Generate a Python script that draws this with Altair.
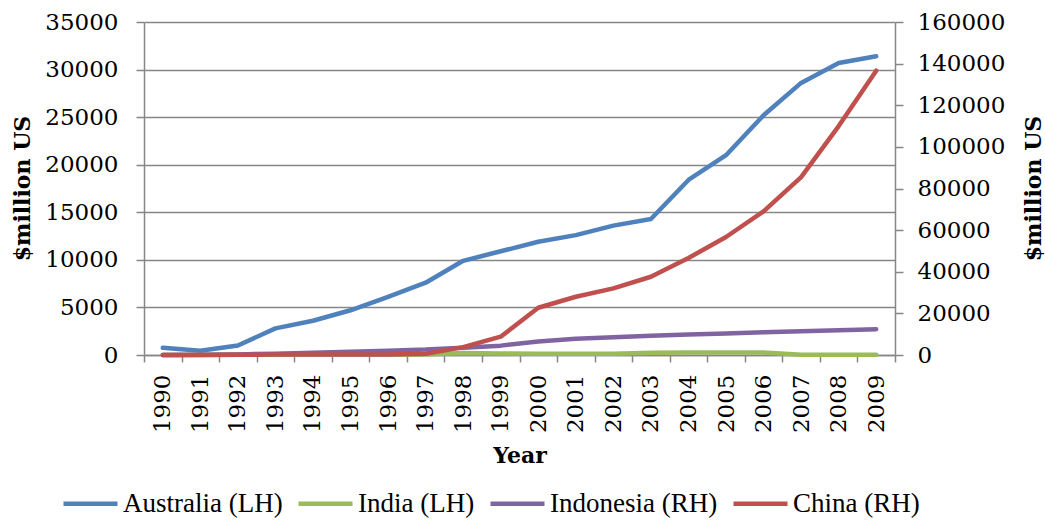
import altair as alt
import pandas as pd

# Annual values, $million US
years = [str(y) for y in range(1990, 2010)]
australia = [750, 450, 1000, 2800, 3600, 4700, 6100, 7600, 9900, 10900,
             11900, 12600, 13600, 14300, 18400, 21000, 25200, 28600, 30700, 31400]
india = [0, 0, 20, 30, 40, 50, 50, 60, 220, 150,
         130, 130, 140, 230, 260, 260, 250, 30, 20, 30]
indonesia = [0, 100, 300, 600, 1100, 1600, 2100, 2600, 3500, 4500,
             6500, 7800, 8500, 9200, 9800, 10300, 10900, 11400, 11900, 12400]
china = [0, 0, 100, 200, 300, 300, 300, 600, 3800, 8800,
         22700, 28000, 32000, 37600, 46600, 56700, 69000, 85500, 110000, 136600]

series_names = ["Australia (LH)", "India (LH)", "Indonesia (RH)", "China (RH)"]
series_colors = ["#4F81BD", "#9BBB59", "#8064A2", "#C0504D"]
left_ticks = [0, 5000, 10000, 15000, 20000, 25000, 30000, 35000]
right_ticks = [0, 20000, 40000, 60000, 80000, 100000, 120000, 140000, 160000]

rows = []
for name, side, vals in [
    ("Australia (LH)", "L", australia),
    ("India (LH)", "L", india),
    ("Indonesia (RH)", "R", indonesia),
    ("China (RH)", "R", china),
]:
    for yr, v in zip(years, vals):
        rows.append({"Year": yr, "series": name, "side": side, "value": v})
df = pd.DataFrame(rows)

FONT = "DejaVu Serif"
GREY = "#868686"

x_enc = alt.X(
    "Year:O",
    sort=years,
    bandPosition=0.5,
    scale=alt.Scale(type="band", paddingInner=0, paddingOuter=0),
    axis=alt.Axis(
        title="Year",
        labelAngle=-90,
        tickBand="extent",
        tickSize=7,
        labelPadding=12,
        grid=False,
        titlePadding=13,
    ),
)

color_enc = alt.Color(
    "series:N",
    scale=alt.Scale(domain=series_names, range=series_colors),
    legend=alt.Legend(
        title=None,
        orient="none",
        direction="horizontal",
        legendX=-83,
        legendY=452,
        symbolType="stroke",
        symbolSize=2916,
        symbolStrokeWidth=4.5,
        labelFont="Liberation Serif",
        labelFontSize=27,
        labelColor="#000000",
        labelOffset=3,
        columnPadding=6,
        labelLimit=400,
    ),
)

base = alt.Chart(df)

left = base.transform_filter(alt.datum.side == "L").mark_line(
    strokeWidth=4.5, strokeJoin="round", strokeCap="round"
).encode(
    x=x_enc,
    y=alt.Y(
        "value:Q",
        scale=alt.Scale(domain=[0, 35000], nice=False, zero=True),
        axis=alt.Axis(
            title="$million US",
            values=left_ticks,
            format="d",
            orient="left",
            tickSize=8,
            labelPadding=18,
            grid=True,
            titleX=-122,
            titleY=166,
            titleAngle=270,
            titleAlign="center",
            titleBaseline="middle",
        ),
    ),
    color=color_enc,
    detail="series:N",
)

right = base.transform_filter(alt.datum.side == "R").mark_line(
    strokeWidth=4.5, strokeJoin="round", strokeCap="round"
).encode(
    x=x_enc,
    y=alt.Y(
        "value:Q",
        scale=alt.Scale(domain=[0, 160000], nice=False, zero=True),
        axis=alt.Axis(
            title="$million US",
            values=right_ticks,
            format="d",
            orient="right",
            tickSize=8,
            labelPadding=14,
            grid=False,
            titleX=138,
            titleY=166,
            titleAngle=270,
            titleAlign="center",
            titleBaseline="middle",
        ),
    ),
    color=color_enc,
    detail="series:N",
)

chart = alt.layer(left, right).resolve_scale(y="independent").properties(
    width=751,
    height=333,
    autosize=alt.AutoSizeParams(type="none"),
    padding={"left": 144, "top": 22, "right": 150, "bottom": 165},
    background="#FFFFFF",
).configure_view(
    stroke=None
).configure_axis(
    labelFont=FONT,
    labelFontSize=23,
    labelColor="#000000",
    titleFont=FONT,
    titleFontSize=22,
    titleFontWeight="bold",
    titleColor="#000000",
    domainColor=GREY,
    tickColor=GREY,
    gridColor=GREY,
    domainWidth=1.5,
    tickWidth=1.5,
    gridWidth=1.5,
)

chart.save("out.html", embed_options={"renderer": "svg", "actions": False})
